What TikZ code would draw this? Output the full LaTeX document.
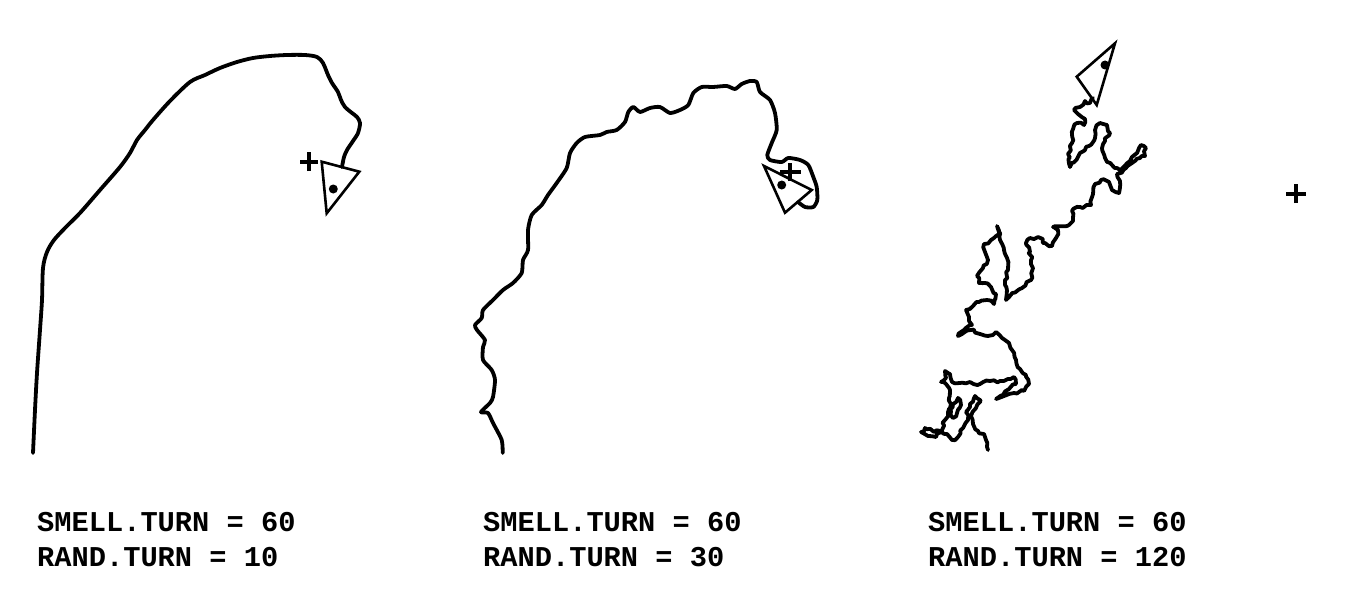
\documentclass[tikz,border=0pt]{standalone}
\usepackage{fontspec}
\usetikzlibrary{decorations.pathmorphing}
\newfontfamily\plotfont{Liberation Mono}[BoldFont={Liberation Mono Bold}]
\begin{document}
\begin{tikzpicture}[x=1pt,y=-1pt,
  trail/.style={line width=3.8pt,line join=round,line cap=round},
  scribble/.style={trail,decorate,decoration={random steps,segment length=3.5pt,amplitude=1.6pt}},
  turtle/.style={line width=2.6pt,line join=miter},
  food/.style={line width=3.2pt},
  label/.style={anchor=base west,inner sep=0pt,font=\plotfont\bfseries\fontsize{28.7}{35}\selectfont}]
\pgfmathsetseed{7}
\useasboundingbox (0,0) rectangle (1357,594);
% ---------- panel 1 ----------
\draw[trail] plot[smooth,tension=0.5] coordinates {(33,453) (35,410) (37,373) (40,330) (42,300) (43,268) (47,252) (54,240) (66,227) (80,213) (100,190) (120,167) (130,153) (137,140) (145,130) (153,120) (170,101) (190,82) (205,75) (220,68) (237,62) (253,58) (270,56) (287,55) (305,55) (317,57) (323,63) (328,75) (332,83) (338,92) (341,100) (345,107) (352,113) (357,117) (360,123) (358,133) (353,141) (347,150) (344,157) (342,167)};
\coordinate (t1a) at (321.7,161.7);
\coordinate (t1b) at (359.3,171.7);
\coordinate (t1c) at (326.7,213.3);
\draw[turtle] (t1a) -- (t1b) -- (t1c) -- cycle;
\fill (333.3,189) circle (4.5pt);
\coordinate (f1) at (309,162);
\draw[food] ([xshift=-9pt]f1) -- ([xshift=9pt]f1) ([yshift=-9pt]f1) -- ([yshift=10pt]f1);
% ---------- panel 2 ----------
\draw[trail] plot[smooth,tension=0.4] coordinates {(502.7,453) (501.7,440) (493,423) (488,413) (481,412) (490,403) (493,397) (495,380) (491.7,370) (483,360) (483,347) (485,340) (477,330) (475,325) (481.7,318) (483,310) (493,300) (503,290) (513,283) (521.7,273) (523,260) (528,250) (528,230) (531.7,215) (541.7,205) (548,195) (556.7,183) (566.7,168) (570,153) (576.7,143) (585,137) (600,135) (606.7,132) (616.7,130) (625,122) (628.3,112) (633.3,107) (640,112) (650,108) (660,107) (670,113) (680,110) (688.3,105) (693.3,93) (701.7,87) (713,87) (726.7,86) (735,89) (741.7,84) (750,81) (756.7,82) (760,92) (770,100) (775,113) (776.7,130) (771.7,143) (767.3,155) (770,160) (781.7,162) (788.3,158) (800,160) (808.3,165) (813.3,177) (816.7,187) (817.3,200) (813.3,207) (805,207) (798,202)};
\coordinate (t2a) at (764,166);
\coordinate (t2b) at (811.7,190);
\coordinate (t2c) at (785,212.7);
\draw[turtle] (t2a) -- (t2b) -- (t2c) -- cycle;
\fill (781.7,185) circle (4.5pt);
\coordinate (f2) at (790,172);
\draw[food] ([xshift=-10pt]f2) -- ([xshift=11pt]f2) ([yshift=-9pt]f2) -- ([yshift=9pt]f2);
% ---------- panel 3 ----------
\draw[scribble] (988,450) -- (986,440) -- (984,434) -- (978,431) -- (973,424) -- (971,416) -- (976,408) -- (980,400) -- (975,396) -- (970,404) -- (966,412) -- (968,420) -- (963,428) -- (958,437) -- (952,440) -- (947,434) -- (941,431) -- (934,432) -- (925,428) -- (921,432) -- (928,436) -- (936,437) -- (942,430) -- (945,420) -- (948,412) -- (953,404) -- (958,398) -- (961,405) -- (957,413) -- (953,418) -- (950,408) -- (949,398) -- (950,390) -- (946,384) -- (941,382) -- (946,378) -- (945,371) -- (950,374) -- (952,382) -- (960,383) -- (970,382) -- (980,384) -- (990,381) -- (1000,381) -- (1008,379) -- (1014,377) -- (1016,384) -- (1009,389) -- (1003,395) -- (996,399) -- (1004,396) -- (1014,393) -- (1024,391) -- (1029,384) -- (1026,375) -- (1020,369) -- (1016,360) -- (1012,350) -- (1009,343) -- (1002,338) -- (996,332) -- (988,336) -- (980,334) -- (971,330) -- (962,334) -- (958,336) -- (964,330) -- (972,325) -- (969,317) -- (966,310) -- (973,306) -- (979,302) -- (987,300) -- (994,304) -- (996,294) -- (991,287) -- (985,283) -- (979,283) -- (977,276) -- (983,268) -- (988,260) -- (985,252) -- (984,244) -- (991,240) -- (999,234) -- (997,226) -- (1000,240) -- (1004,250) -- (1007,258) -- (1008,270) -- (1005,285) -- (1006,300) -- (1012,293) -- (1022,288) -- (1031,280) -- (1033,268) -- (1030,252) -- (1026,243) -- (1030,238) -- (1038,237) -- (1045,243) -- (1052,246) -- (1056,238) -- (1058,230) -- (1053,227) -- (1067,226) -- (1073,221) -- (1072,211) -- (1080,207) -- (1091,205) -- (1093,194) -- (1095,184) -- (1101,180) -- (1109,182) -- (1112,190) -- (1119,193) -- (1120,181) -- (1117,174) -- (1126,168) -- (1132,163) -- (1140,158) -- (1145,156) -- (1146,148) -- (1141,145) -- (1137,153) -- (1130,161) -- (1120,170) -- (1112,165) -- (1105,158) -- (1102,148) -- (1105,141) -- (1110,133) -- (1107,125) -- (1100,123) -- (1095,130) -- (1095,138) -- (1089,146) -- (1080,153) -- (1070,167) -- (1068,154) -- (1072,143) -- (1073,129) -- (1077,123) -- (1084,125) -- (1085,119) -- (1078,114) -- (1074,110) -- (1080,107) -- (1085,101) -- (1090,103) -- (1093,98);
\coordinate (t3a) at (1115,43.3);
\coordinate (t3b) at (1076.7,76.7);
\coordinate (t3c) at (1096.7,105);
\draw[turtle] (t3a) -- (t3b) -- (t3c) -- cycle;
\fill (1105,65) circle (4.5pt);
\coordinate (f3) at (1296,194);
\draw[food] ([xshift=-10pt]f3) -- ([xshift=10pt]f3) ([yshift=-9pt]f3) -- ([yshift=10pt]f3);
% ---------- labels ----------
\node[label] (l1a) at (37,531.7) {SMELL.TURN = 60};
\node[label] (l1b) at (37,566.7) {RAND.TURN = 10};
\node[label] (l2a) at (483,531.7) {SMELL.TURN = 60};
\node[label] (l2b) at (483,566.7) {RAND.TURN = 30};
\node[label] (l3a) at (928,531.7) {SMELL.TURN = 60};
\node[label] (l3b) at (928,566.7) {RAND.TURN = 120};
\end{tikzpicture}
\end{document}
